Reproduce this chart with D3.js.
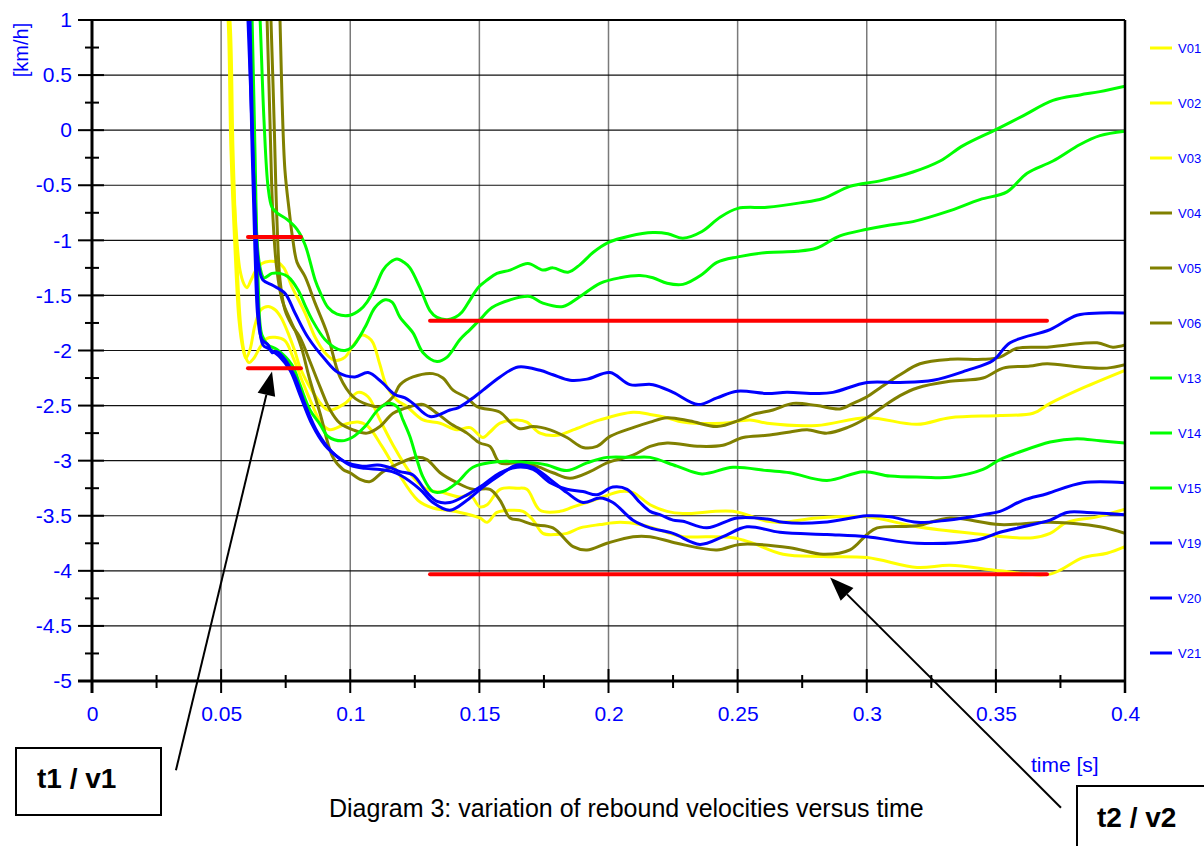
<!DOCTYPE html>
<html><head><meta charset="utf-8">
<script src="https://cdn.jsdelivr.net/npm/d3@7"></script>
<style>
html,body{margin:0;padding:0;background:#fff;}
svg{display:block;font-family:"Liberation Sans",Arial,Helvetica,sans-serif;}
</style></head>
<body>
<svg id="chart" width="1204" height="846"></svg>
<script>
// ---------- data (time [s], velocity [km/h]) ----------
const seriesNames = ["V01","V02","V03","V04","V05","V06","V13","V14","V15","V19","V20","V21"];
const seriesColors = ["#FFFF00","#FFFF00","#FFFF00","#808000","#808000","#808000","#00FF00","#00FF00","#00FF00","#0000FF","#0000FF","#0000FF"];

const V01 = [[0.0523,1.18],[0.0531,1.0],[0.0542,-0.18],[0.0558,-0.90],[0.0573,-1.27],[0.0589,-1.40],[0.0600,-1.43],[0.0616,-1.36],[0.0635,-1.27],[0.0658,-1.21],[0.0689,-1.19],[0.0720,-1.20],[0.0743,-1.25],[0.0774,-1.42],[0.0825,-1.66],[0.0864,-1.88],[0.0902,-2.02],[0.0941,-2.09],[0.0980,-2.06],[0.1007,-1.97],[0.1046,-1.86],[0.1069,-1.88],[0.1088,-1.93],[0.1115,-2.13],[0.1142,-2.33],[0.1181,-2.45],[0.1220,-2.51],[0.1282,-2.63],[0.1348,-2.66],[0.1413,-2.72],[0.1464,-2.70],[0.1514,-2.79],[0.1541,-2.74],[0.1580,-2.66],[0.1646,-2.63],[0.1684,-2.65],[0.1735,-2.75],[0.1801,-2.77],[0.1863,-2.72],[0.1967,-2.63],[0.2095,-2.56],[0.2161,-2.58],[0.2227,-2.61],[0.2288,-2.65],[0.2443,-2.66],[0.2548,-2.63],[0.2614,-2.66],[0.2807,-2.68],[0.3001,-2.61],[0.3195,-2.67],[0.3322,-2.61],[0.3516,-2.59],[0.3644,-2.57],[0.3710,-2.48],[0.3837,-2.34],[0.4000,-2.18]];
const V02 = [[0.0519,1.18],[0.0527,1.0],[0.0538,-0.18],[0.0554,-1.09],[0.0569,-1.72],[0.0585,-1.99],[0.0596,-2.07],[0.0612,-1.99],[0.0631,-1.77],[0.0654,-1.63],[0.0682,-1.60],[0.0709,-1.63],[0.0732,-1.70],[0.0759,-1.84],[0.0786,-2.01],[0.0805,-2.15],[0.0856,-2.38],[0.0914,-2.54],[0.0980,-2.48],[0.1030,-2.38],[0.1069,-2.42],[0.1115,-2.63],[0.1166,-2.86],[0.1212,-3.04],[0.1251,-3.17],[0.1297,-3.26],[0.1359,-3.29],[0.1425,-3.33],[0.1464,-3.31],[0.1502,-3.42],[0.1530,-3.40],[0.1580,-3.26],[0.1646,-3.25],[0.1684,-3.26],[0.1735,-3.45],[0.1812,-3.46],[0.1863,-3.42],[0.1967,-3.34],[0.2045,-3.28],[0.2095,-3.29],[0.2161,-3.40],[0.2227,-3.46],[0.2288,-3.48],[0.2482,-3.46],[0.2614,-3.55],[0.2676,-3.56],[0.2807,-3.52],[0.3001,-3.51],[0.3195,-3.60],[0.3450,-3.67],[0.3582,-3.70],[0.3644,-3.70],[0.3710,-3.66],[0.3775,-3.56],[0.3892,-3.51],[0.4000,-3.44]];
const V03 = [[0.0523,1.18],[0.0534,1.0],[0.0546,-0.18],[0.0561,-1.18],[0.0577,-1.81],[0.0592,-2.04],[0.0608,-2.11],[0.0627,-2.07],[0.0651,-1.97],[0.0678,-1.89],[0.0709,-1.88],[0.0747,-1.91],[0.0778,-2.06],[0.0813,-2.27],[0.0852,-2.49],[0.0891,-2.67],[0.0922,-2.72],[0.0980,-2.67],[0.1030,-2.65],[0.1069,-2.69],[0.1123,-2.87],[0.1185,-3.11],[0.1262,-3.36],[0.1320,-3.43],[0.1375,-3.45],[0.1425,-3.47],[0.1502,-3.52],[0.1530,-3.56],[0.1568,-3.47],[0.1619,-3.45],[0.1669,-3.46],[0.1708,-3.54],[0.1746,-3.66],[0.1801,-3.67],[0.1839,-3.66],[0.1890,-3.61],[0.1967,-3.58],[0.2045,-3.56],[0.2122,-3.58],[0.2199,-3.63],[0.2288,-3.69],[0.2381,-3.69],[0.2482,-3.70],[0.2548,-3.74],[0.2676,-3.85],[0.2831,-3.87],[0.3001,-3.88],[0.3195,-3.97],[0.3322,-3.95],[0.3516,-4.00],[0.3710,-4.03],[0.3837,-3.88],[0.3930,-3.84],[0.4000,-3.78]];
const V04 = [[0.0724,1.18],[0.0728,1.0],[0.0736,0.27],[0.0747,-0.36],[0.0763,-0.72],[0.0778,-1.00],[0.0794,-1.20],[0.0825,-1.33],[0.0864,-1.57],[0.0910,-1.84],[0.0960,-2.24],[0.1011,-2.42],[0.1065,-2.49],[0.1115,-2.51],[0.1166,-2.42],[0.1193,-2.31],[0.1243,-2.24],[0.1320,-2.21],[0.1359,-2.25],[0.1398,-2.36],[0.1452,-2.43],[0.1491,-2.51],[0.1580,-2.56],[0.1619,-2.65],[0.1657,-2.71],[0.1708,-2.69],[0.1774,-2.72],[0.1839,-2.79],[0.1901,-2.88],[0.1955,-2.87],[0.2006,-2.78],[0.2095,-2.70],[0.2161,-2.65],[0.2227,-2.61],[0.2316,-2.64],[0.2420,-2.69],[0.2509,-2.63],[0.2560,-2.58],[0.2637,-2.54],[0.2714,-2.48],[0.2807,-2.50],[0.2896,-2.53],[0.2947,-2.48],[0.3001,-2.42],[0.3051,-2.34],[0.3129,-2.22],[0.3206,-2.12],[0.3322,-2.08],[0.3450,-2.08],[0.3516,-2.06],[0.3582,-1.98],[0.3698,-1.97],[0.3775,-1.95],[0.3892,-1.93],[0.3953,-1.97],[0.4000,-1.95]];
const V05 = [[0.0689,1.18],[0.0693,1.0],[0.0705,0.09],[0.0716,-0.81],[0.0728,-1.36],[0.0747,-1.63],[0.0774,-1.77],[0.0805,-1.88],[0.0844,-2.10],[0.0883,-2.33],[0.0922,-2.54],[0.0960,-2.66],[0.1011,-2.72],[0.1065,-2.75],[0.1115,-2.69],[0.1166,-2.57],[0.1231,-2.51],[0.1282,-2.49],[0.1336,-2.57],[0.1386,-2.66],[0.1452,-2.75],[0.1502,-2.84],[0.1541,-2.87],[0.1580,-3.02],[0.1646,-3.02],[0.1708,-3.04],[0.1785,-3.11],[0.1851,-3.16],[0.1928,-3.10],[0.1994,-3.02],[0.2095,-2.95],[0.2161,-2.87],[0.2227,-2.84],[0.2354,-2.87],[0.2443,-2.86],[0.2521,-2.79],[0.2614,-2.77],[0.2703,-2.74],[0.2769,-2.72],[0.2846,-2.75],[0.2924,-2.70],[0.3001,-2.61],[0.3063,-2.51],[0.3129,-2.41],[0.3195,-2.34],[0.3322,-2.28],[0.3450,-2.25],[0.3528,-2.16],[0.3632,-2.14],[0.3698,-2.12],[0.3826,-2.15],[0.3930,-2.16],[0.4000,-2.13]];
const V06 = [[0.0674,1.18],[0.0678,1.0],[0.0689,0.09],[0.0701,-0.81],[0.0716,-1.27],[0.0736,-1.54],[0.0767,-1.72],[0.0794,-1.86],[0.0813,-1.99],[0.0844,-2.27],[0.0883,-2.57],[0.0933,-2.97],[0.0972,-3.08],[0.0999,-3.11],[0.1038,-3.17],[0.1076,-3.19],[0.1127,-3.10],[0.1193,-3.02],[0.1258,-2.97],[0.1297,-2.99],[0.1348,-3.11],[0.1413,-3.20],[0.1475,-3.26],[0.1541,-3.26],[0.1580,-3.36],[0.1619,-3.52],[0.1657,-3.54],[0.1708,-3.58],[0.1785,-3.61],[0.1863,-3.78],[0.1917,-3.81],[0.1994,-3.75],[0.2095,-3.69],[0.2161,-3.69],[0.2265,-3.75],[0.2420,-3.81],[0.2509,-3.76],[0.2703,-3.79],[0.2831,-3.85],[0.2935,-3.81],[0.3001,-3.67],[0.3040,-3.61],[0.3195,-3.59],[0.3322,-3.52],[0.3516,-3.58],[0.3710,-3.56],[0.3903,-3.60],[0.4000,-3.66]];
const V13 = [[0.0647,1.18],[0.0651,1.0],[0.0666,0.09],[0.0682,-0.52],[0.0697,-0.70],[0.0716,-0.75],[0.0755,-0.81],[0.0794,-0.90],[0.0825,-1.04],[0.0864,-1.36],[0.0883,-1.47],[0.0914,-1.61],[0.0949,-1.67],[0.0999,-1.68],[0.1038,-1.63],[0.1065,-1.56],[0.1096,-1.43],[0.1127,-1.27],[0.1154,-1.20],[0.1181,-1.17],[0.1208,-1.20],[0.1231,-1.25],[0.1270,-1.43],[0.1309,-1.64],[0.1336,-1.70],[0.1375,-1.72],[0.1406,-1.70],[0.1433,-1.65],[0.1464,-1.54],[0.1495,-1.43],[0.1530,-1.36],[0.1568,-1.30],[0.1619,-1.27],[0.1688,-1.21],[0.1746,-1.27],[0.1785,-1.25],[0.1843,-1.29],[0.1890,-1.22],[0.1940,-1.11],[0.1998,-1.02],[0.2083,-0.96],[0.2172,-0.93],[0.2230,-0.94],[0.2288,-0.98],[0.2362,-0.92],[0.2432,-0.79],[0.2501,-0.71],[0.2614,-0.70],[0.2742,-0.66],[0.2831,-0.62],[0.2935,-0.51],[0.3051,-0.46],[0.3179,-0.38],[0.3284,-0.28],[0.3373,-0.14],[0.3504,0.01],[0.3605,0.13],[0.3721,0.27],[0.3826,0.32],[0.3903,0.35],[0.4000,0.40]];
const V14 = [[0.0612,1.18],[0.0616,1.0],[0.0627,-0.18],[0.0639,-1.00],[0.0651,-1.25],[0.0666,-1.34],[0.0697,-1.30],[0.0728,-1.30],[0.0759,-1.33],[0.0798,-1.45],[0.0825,-1.59],[0.0852,-1.72],[0.0902,-1.90],[0.0953,-1.99],[0.0980,-2.00],[0.1007,-1.97],[0.1057,-1.79],[0.1096,-1.61],[0.1135,-1.54],[0.1162,-1.56],[0.1193,-1.70],[0.1243,-1.84],[0.1282,-2.02],[0.1336,-2.10],[0.1375,-2.06],[0.1425,-1.90],[0.1464,-1.81],[0.1502,-1.72],[0.1549,-1.61],[0.1619,-1.54],[0.1696,-1.51],[0.1746,-1.57],[0.1824,-1.60],[0.1890,-1.51],[0.1967,-1.39],[0.2045,-1.34],[0.2122,-1.32],[0.2172,-1.34],[0.2227,-1.39],[0.2288,-1.40],[0.2362,-1.31],[0.2420,-1.20],[0.2501,-1.15],[0.2614,-1.11],[0.2730,-1.10],[0.2807,-1.07],[0.2896,-0.96],[0.3001,-0.90],[0.3090,-0.86],[0.3179,-0.83],[0.3311,-0.74],[0.3438,-0.63],[0.3543,-0.56],[0.3621,-0.39],[0.3721,-0.28],[0.3826,-0.13],[0.3903,-0.05],[0.4000,-0.01]];
const V15 = [[0.0616,1.18],[0.0620,1.0],[0.0631,-0.18],[0.0643,-1.36],[0.0658,-1.86],[0.0682,-1.95],[0.0716,-1.99],[0.0774,-2.13],[0.0805,-2.31],[0.0844,-2.54],[0.0883,-2.67],[0.0914,-2.78],[0.0968,-2.82],[0.1007,-2.79],[0.1057,-2.69],[0.1107,-2.54],[0.1146,-2.48],[0.1181,-2.51],[0.1204,-2.63],[0.1231,-2.78],[0.1258,-2.99],[0.1282,-3.15],[0.1320,-3.28],[0.1359,-3.28],[0.1413,-3.20],[0.1475,-3.06],[0.1568,-3.01],[0.1708,-3.02],[0.1762,-3.04],[0.1839,-3.09],[0.1917,-3.02],[0.1994,-2.97],[0.2095,-2.97],[0.2161,-2.97],[0.2265,-3.05],[0.2362,-3.12],[0.2482,-3.06],[0.2614,-3.09],[0.2703,-3.11],[0.2846,-3.18],[0.2986,-3.10],[0.3090,-3.14],[0.3218,-3.15],[0.3322,-3.15],[0.3450,-3.08],[0.3516,-2.99],[0.3582,-2.93],[0.3710,-2.83],[0.3814,-2.80],[0.3903,-2.82],[0.4000,-2.84]];
const V19 = [[0.0600,1.18],[0.0604,1.0],[0.0620,0.00],[0.0635,-0.91],[0.0647,-1.25],[0.0662,-1.36],[0.0701,-1.41],[0.0747,-1.48],[0.0786,-1.66],[0.0836,-1.88],[0.0902,-2.08],[0.0953,-2.20],[0.1018,-2.24],[0.1069,-2.20],[0.1123,-2.29],[0.1173,-2.40],[0.1212,-2.43],[0.1243,-2.48],[0.1309,-2.60],[0.1386,-2.54],[0.1417,-2.52],[0.1464,-2.45],[0.1514,-2.36],[0.1580,-2.24],[0.1650,-2.15],[0.1735,-2.18],[0.1785,-2.22],[0.1851,-2.27],[0.1917,-2.26],[0.2006,-2.20],[0.2083,-2.31],[0.2172,-2.31],[0.2250,-2.38],[0.2347,-2.49],[0.2420,-2.43],[0.2498,-2.37],[0.2614,-2.39],[0.2691,-2.38],[0.2807,-2.39],[0.2869,-2.38],[0.3001,-2.29],[0.3129,-2.29],[0.3257,-2.27],[0.3388,-2.18],[0.3489,-2.09],[0.3555,-1.93],[0.3710,-1.81],[0.3814,-1.68],[0.3903,-1.66],[0.4000,-1.66]];
const V20 = [[0.0604,1.18],[0.0608,1.0],[0.0620,-0.18],[0.0631,-1.09],[0.0643,-1.72],[0.0658,-1.90],[0.0682,-1.95],[0.0697,-2.02],[0.0716,-2.01],[0.0747,-2.08],[0.0786,-2.24],[0.0825,-2.49],[0.0875,-2.75],[0.0929,-2.92],[0.0980,-3.01],[0.1046,-3.05],[0.1107,-3.04],[0.1162,-3.07],[0.1193,-3.10],[0.1243,-3.13],[0.1297,-3.29],[0.1336,-3.37],[0.1386,-3.38],[0.1452,-3.31],[0.1514,-3.22],[0.1580,-3.11],[0.1646,-3.06],[0.1708,-3.08],[0.1774,-3.20],[0.1839,-3.26],[0.1901,-3.28],[0.1955,-3.31],[0.2017,-3.24],[0.2072,-3.26],[0.2122,-3.38],[0.2161,-3.46],[0.2199,-3.49],[0.2250,-3.54],[0.2288,-3.55],[0.2381,-3.61],[0.2498,-3.52],[0.2614,-3.53],[0.2676,-3.56],[0.2831,-3.56],[0.3001,-3.50],[0.3090,-3.51],[0.3195,-3.56],[0.3311,-3.54],[0.3450,-3.49],[0.3516,-3.46],[0.3605,-3.36],[0.3698,-3.30],[0.3837,-3.20],[0.4000,-3.20]];
const V21 = [[0.0608,1.18],[0.0612,1.0],[0.0623,-0.18],[0.0635,-1.09],[0.0647,-1.72],[0.0662,-1.95],[0.0689,-1.99],[0.0728,-2.06],[0.0767,-2.18],[0.0805,-2.40],[0.0852,-2.67],[0.0902,-2.86],[0.0953,-2.97],[0.0999,-3.04],[0.1057,-3.07],[0.1115,-3.08],[0.1162,-3.10],[0.1193,-3.13],[0.1270,-3.26],[0.1320,-3.38],[0.1386,-3.45],[0.1452,-3.36],[0.1514,-3.24],[0.1580,-3.13],[0.1646,-3.04],[0.1708,-3.06],[0.1774,-3.17],[0.1839,-3.29],[0.1901,-3.38],[0.1967,-3.34],[0.2017,-3.38],[0.2095,-3.54],[0.2161,-3.61],[0.2250,-3.66],[0.2354,-3.76],[0.2443,-3.69],[0.2536,-3.60],[0.2664,-3.65],[0.2846,-3.67],[0.3001,-3.69],[0.3195,-3.75],[0.3427,-3.72],[0.3516,-3.65],[0.3605,-3.60],[0.3710,-3.54],[0.3775,-3.47],[0.3853,-3.47],[0.4000,-3.49]];
const seriesValues = [V01,V02,V03,V04,V05,V06,V13,V14,V15,V19,V20,V21];

// red reference segments [t start, t end, v]
const refSegments = [[0.0604,0.0809,-0.97],[0.0604,0.0809,-2.16],[0.1309,0.3698,-1.73],[0.1309,0.3698,-4.03]];
// annotation arrows [tail t, tail v, tip t, tip v]
const arrowAnchors = [[0.0325,-5.81,0.0697,-2.19],[0.3752,-6.15,0.2858,-4.06]];

const xTickValues = [0,0.05,0.1,0.15,0.2,0.25,0.3,0.35,0.4];
const xTickLabels = ["0","0.05","0.1","0.15","0.2","0.25","0.3","0.35","0.4"];
const yTickValues = [1,0.5,0,-0.5,-1,-1.5,-2,-2.5,-3,-3.5,-4,-4.5,-5];
const yTickLabels = ["1","0.5","0","-0.5","-1","-1.5","-2","-2.5","-3","-3.5","-4","-4.5","-5"];
const xMinor = [0.025,0.075,0.125,0.175,0.225,0.275,0.325,0.375];
const yMinor = [0.75,0.25,-0.25,-0.75,-1.25,-1.75,-2.25,-2.75,-3.25,-3.75,-4.25,-4.75];

// ---------- layout ----------
const L = 92, R = 1125, T = 20, B = 681;
const svg = d3.select("#chart");
svg.append("rect").attr("width",1204).attr("height",846).attr("fill","#fff");
const x = d3.scaleLinear().domain([0,0.4]).range([L,R]);
const y = d3.scaleLinear().domain([-5,1]).range([B,T]);
const BLUE = "#0000FF";

// grid
svg.append("g").selectAll("line").data(xTickValues.slice(1)).join("line")
  .attr("x1",d=>x(d)).attr("x2",d=>x(d)).attr("y1",T).attr("y2",B)
  .attr("stroke","#7a7a7a").attr("stroke-width",1.5);
svg.append("g").selectAll("line").data(yTickValues.slice(1,-1)).join("line")
  .attr("x1",L).attr("x2",R).attr("y1",d=>y(d)).attr("y2",d=>y(d))
  .attr("stroke","#111").attr("stroke-width",1.2);

// clip + curves
svg.append("defs").append("clipPath").attr("id","plot")
  .append("rect").attr("x",L).attr("y",T).attr("width",R-L).attr("height",B-T);
const line = d3.line().x(d=>x(d[0])).y(d=>y(d[1])).curve(d3.curveCatmullRom.alpha(0.5));
const gCurves = svg.append("g").attr("clip-path","url(#plot)");
seriesValues.forEach((vals,i)=>{
  gCurves.append("path").attr("d",line(vals)).attr("fill","none")
    .attr("stroke",seriesColors[i]).attr("stroke-width",3)
    .attr("stroke-linejoin","round");
});

// red reference segments
svg.append("g").selectAll("line").data(refSegments).join("line")
  .attr("x1",d=>x(d[0])).attr("x2",d=>x(d[1])).attr("y1",d=>y(d[2])).attr("y2",d=>y(d[2]))
  .attr("stroke","#FF0000").attr("stroke-width",4).attr("stroke-linecap","round");

// frame
svg.append("line").attr("x1",L).attr("x2",R).attr("y1",T).attr("y2",T).attr("stroke","#000").attr("stroke-width",2);
svg.append("line").attr("x1",R).attr("x2",R).attr("y1",T).attr("y2",B+12).attr("stroke","#000").attr("stroke-width",2.5);

// axes (labels via d3 axes)
const yAxis = d3.axisLeft(y).tickValues(yTickValues).tickFormat((d,i)=>yTickLabels[i]).tickSize(0).tickPadding(20);
const gy = svg.append("g").attr("transform",`translate(${L},0)`).call(yAxis);
gy.select(".domain").remove();
gy.selectAll("text").attr("fill",BLUE).attr("font-size",21).attr("font-family","Liberation Sans, Arial, sans-serif");
const xAxis = d3.axisBottom(x).tickValues(xTickValues).tickFormat((d,i)=>xTickLabels[i]).tickSize(0).tickPadding(25);
const gx = svg.append("g").attr("transform",`translate(0,${B})`).call(xAxis);
gx.select(".domain").remove();
gx.selectAll("text").attr("fill",BLUE).attr("font-size",21).attr("font-family","Liberation Sans, Arial, sans-serif");

// axis lines & ticks
svg.append("line").attr("x1",L).attr("x2",L).attr("y1",T).attr("y2",B+12).attr("stroke","#000").attr("stroke-width",3);
svg.append("line").attr("x1",L-14).attr("x2",R).attr("y1",B).attr("y2",B).attr("stroke","#000").attr("stroke-width",3);
svg.append("g").selectAll("line").data(yTickValues).join("line")
  .attr("x1",L-14).attr("x2",L+12).attr("y1",d=>y(d)).attr("y2",d=>y(d))
  .attr("stroke","#000").attr("stroke-width",2);
svg.append("g").selectAll("line").data(yMinor).join("line")
  .attr("x1",L-7).attr("x2",L+7).attr("y1",d=>y(d)).attr("y2",d=>y(d))
  .attr("stroke","#000").attr("stroke-width",2);
svg.append("g").selectAll("line").data(xTickValues).join("line")
  .attr("x1",d=>x(d)).attr("x2",d=>x(d)).attr("y1",B-12).attr("y2",B+12)
  .attr("stroke","#000").attr("stroke-width",2);
svg.append("g").selectAll("line").data(xMinor).join("line")
  .attr("x1",d=>x(d)).attr("x2",d=>x(d)).attr("y1",B-6).attr("y2",B+7)
  .attr("stroke","#000").attr("stroke-width",2);

// axis titles
svg.append("text").attr("transform","translate(28,50) rotate(-90)").attr("text-anchor","middle")
  .attr("fill",BLUE).attr("font-size",20).text("[km/h]");
svg.append("text").attr("x",1031).attr("y",772).attr("fill",BLUE).attr("font-size",21).text("time [s]");

// legend
const lg = svg.append("g");
seriesNames.forEach((n,i)=>{
  const yy = 48 + i*55;
  lg.append("line").attr("x1",1150).attr("x2",1172).attr("y1",yy).attr("y2",yy)
    .attr("stroke",seriesColors[i]).attr("stroke-width",3);
  lg.append("text").attr("x",1178).attr("y",yy+4.5).attr("fill",BLUE).attr("font-size",13).text(n);
});

// caption
svg.append("text").attr("x",329).attr("y",817).attr("fill","#000").attr("font-size",25)
  .text("Diagram 3: variation of rebound velocities versus time");

// annotation boxes
svg.append("rect").attr("x",16).attr("y",748).attr("width",145).attr("height",67)
  .attr("fill","#fff").attr("stroke","#000").attr("stroke-width",2);
svg.append("text").attr("x",37).attr("y",788).attr("font-size",28).attr("font-weight","bold").attr("fill","#000").text("t1 / v1");
svg.append("rect").attr("x",1077).attr("y",786).attr("width",160).attr("height",90)
  .attr("fill","#fff").attr("stroke","#000").attr("stroke-width",2);
svg.append("text").attr("x",1097).attr("y",827).attr("font-size",28).attr("font-weight","bold").attr("fill","#000").text("t2 / v2");

// arrows
arrowAnchors.forEach(a=>{
  const x0=x(a[0]), y0=y(a[1]), x1=x(a[2]), y1=y(a[3]);
  const ang=Math.atan2(y1-y0,x1-x0), len=24, hw=9;
  const bx=x1-len*Math.cos(ang), by=y1-len*Math.sin(ang);
  svg.append("line").attr("x1",x0).attr("y1",y0).attr("x2",bx).attr("y2",by)
    .attr("stroke","#000").attr("stroke-width",2);
  const px=-Math.sin(ang), py=Math.cos(ang);
  svg.append("path").attr("d",`M${x1},${y1}L${bx+px*hw},${by+py*hw}L${bx-px*hw},${by-py*hw}Z`).attr("fill","#000");
});
</script>
</body></html>
